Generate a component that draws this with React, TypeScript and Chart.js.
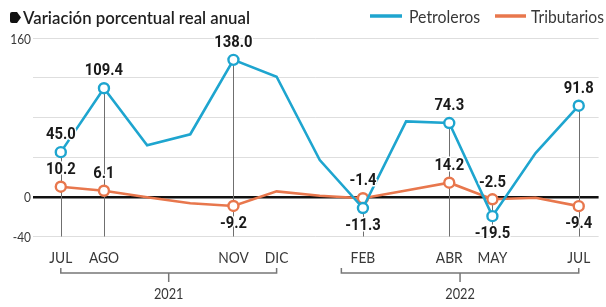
import { useEffect, useRef } from 'react';
import { Chart, registerables } from 'chart.js';

Chart.register(...registerables);

// ---- data ----
const months = ['JUL', 'AGO', 'SEP', 'OCT', 'NOV', 'DIC', 'ENE', 'FEB', 'MAR', 'ABR', 'MAY', 'JUN', 'JUL'];
const tickLabels = ['JUL', 'AGO', '', '', 'NOV', 'DIC', '', 'FEB', '', 'ABR', 'MAY', '', 'JUL'];
const petroleros = [45.0, 109.4, 52, 63, 138.0, 121, 37, -11.3, 76, 74.3, -19.5, 44, 91.8];
const tributarios = [10.2, 6.1, -0.5, -6.5, -9.2, 5.5, 1, -1.4, 6.4, 14.2, -2.5, -1, -9.4];
const labeledIdx = [0, 1, 4, 7, 9, 10, 12];
const yTickShown = [160, 0, -40];
const years = ['2021', '2022'];
const yearStart = [0, 6.5];
const yearEnd = [5, 12];
const seriesNames = ['Petroleros', 'Tributarios'];
const titleText = 'Variación porcentual real anual';

const BLUE = '#1ea5cf';
const ORANGE = '#e8774d';
const TEXT = '#383838';

function drawScaled(ctx: CanvasRenderingContext2D, text: string, x: number, y: number, font: string, sx: number, align: CanvasTextAlign, baseline: CanvasTextBaseline, color: string) {
  ctx.save();
  ctx.font = font;
  ctx.fillStyle = color;
  ctx.textAlign = align;
  ctx.textBaseline = baseline;
  ctx.translate(x, y);
  ctx.scale(sx, 1);
  ctx.fillText(text, 0, 0);
  ctx.restore();
}

function drawFit(ctx: CanvasRenderingContext2D, text: string, x: number, y: number, font: string, width: number, color: string) {
  ctx.save();
  ctx.font = font;
  const w = ctx.measureText(text).width;
  ctx.restore();
  drawScaled(ctx, text, x, y, font, width / w, 'left', 'alphabetic', color);
}

const overlay = {
  id: 'overlay',
  beforeDatasetsDraw(chart: any) {
    const { ctx, chartArea, scales } = chart;
    const x = scales.x, y = scales.y;
    ctx.save();
    ctx.strokeStyle = '#6f6f6f';
    ctx.lineWidth = 1;
    labeledIdx.forEach((i) => {
      const px = Math.round(x.getPixelForValue(i)) + 0.5;
      const top = Math.min(y.getPixelForValue(petroleros[i]), y.getPixelForValue(tributarios[i]));
      ctx.beginPath();
      ctx.moveTo(px, top);
      ctx.lineTo(px, chartArea.bottom);
      ctx.stroke();
    });
    ctx.restore();
  },
  afterDatasetsDraw(chart: any) {
    const { ctx, scales } = chart;
    const x = scales.x, y = scales.y;
    const font = '700 17px Roboto, sans-serif';
    [petroleros, tributarios].forEach((series) => {
      labeledIdx.forEach((i) => {
        const v = series[i];
        const px = x.getPixelForValue(i);
        const py = y.getPixelForValue(v);
        const ly = v < -5 ? py + 18 : py - 17;
        const t = v.toFixed(1);
        ctx.save();
        ctx.font = font;
        ctx.textAlign = 'center';
        ctx.textBaseline = 'middle';
        ctx.translate(px, ly);
        ctx.scale(0.87, 1);
        ctx.lineJoin = 'round';
        ctx.strokeStyle = '#ffffff';
        ctx.lineWidth = 3;
        ctx.strokeText(t, 0, 0);
        ctx.fillStyle = '#1a1a1a';
        ctx.fillText(t, 0, 0);
        ctx.restore();
      });
    });
  },
  afterDraw(chart: any) {
    const { ctx, chartArea, scales } = chart;
    const x = scales.x, y = scales.y;
    // y tick labels
    y.ticks.forEach((tk: any) => {
      if (!yTickShown.includes(tk.value)) return;
      drawScaled(ctx, String(tk.value), chartArea.left - 2, y.getPixelForValue(tk.value) + 1, '400 14px Lato, sans-serif', 0.85, 'right', 'middle', TEXT);
    });
    // x tick labels
    x.ticks.forEach((tk: any) => {
      const lbl = tickLabels[tk.value];
      if (!lbl) return;
      drawScaled(ctx, lbl, x.getPixelForValue(tk.value), 263, '400 14.5px Lato, sans-serif', 0.95, 'center', 'alphabetic', TEXT);
    });
    // year brackets
    ctx.save();
    ctx.strokeStyle = '#777777';
    ctx.lineWidth = 1.5;
    years.forEach((yr, g) => {
      const x1 = x.getPixelForValue(yearStart[g]);
      const x2 = x.getPixelForValue(yearEnd[g]);
      const xm = (x1 + x2) / 2;
      ctx.beginPath();
      ctx.moveTo(x1, 268);
      ctx.lineTo(x1, 273);
      ctx.lineTo(x2, 273);
      ctx.lineTo(x2, 268);
      ctx.moveTo(xm, 273);
      ctx.lineTo(xm, 282);
      ctx.stroke();
      drawScaled(ctx, yr, xm, 299, '400 15px Lato, sans-serif', 0.85, 'center', 'alphabetic', TEXT);
    });
    ctx.restore();
    // title bullet
    ctx.save();
    ctx.fillStyle = '#111111';
    ctx.beginPath();
    ctx.moveTo(12, 12);
    ctx.lineTo(17, 12);
    ctx.lineTo(21, 17.5);
    ctx.lineTo(17, 23);
    ctx.lineTo(12, 23);
    ctx.quadraticCurveTo(10, 23, 10, 21);
    ctx.lineTo(10, 14);
    ctx.quadraticCurveTo(10, 12, 12, 12);
    ctx.fill();
    ctx.restore();
    drawFit(ctx, titleText, 23, 24, '600 18px Lato, sans-serif', 227, '#1f1f1f');
    // legend
    const sw = [[370, 402], [495, 526]];
    const tx = [[409, 71], [531, 73]];
    [BLUE, ORANGE].forEach((c, k) => {
      ctx.save();
      ctx.strokeStyle = c;
      ctx.lineWidth = 3.5;
      ctx.beginPath();
      ctx.moveTo(sw[k][0], 16);
      ctx.lineTo(sw[k][1], 16);
      ctx.stroke();
      ctx.restore();
      drawFit(ctx, seriesNames[k], tx[k][0], 22.5, '400 17px Lato, sans-serif', tx[k][1], TEXT);
    });
  },
};

export default function App() {
  const ref = useRef<HTMLCanvasElement | null>(null);
  useEffect(() => {
    if (!ref.current) return;
    const radii = months.map((_, i) => (labeledIdx.includes(i) ? 5 : 0));
    const chart = new Chart(ref.current, {
      type: 'line',
      data: {
        datasets: [
          {
            label: seriesNames[0],
            data: petroleros.map((v, i) => ({ x: i, y: v })),
            borderColor: BLUE,
            borderWidth: 2.6,
            pointRadius: radii,
            pointBackgroundColor: '#ffffff',
            pointBorderColor: BLUE,
            pointBorderWidth: 2.4,
            tension: 0,
          },
          {
            label: seriesNames[1],
            data: tributarios.map((v, i) => ({ x: i, y: v })),
            borderColor: ORANGE,
            borderWidth: 2.6,
            pointRadius: radii,
            pointBackgroundColor: '#ffffff',
            pointBorderColor: ORANGE,
            pointBorderWidth: 2.4,
            tension: 0,
          },
        ],
      },
      options: {
        responsive: false,
        animation: false,
        devicePixelRatio: 1,
        layout: { padding: { top: 38, right: 3, left: 0, bottom: 0 } },
        plugins: { legend: { display: false }, tooltip: { enabled: false }, title: { display: false } },
        scales: {
          x: {
            type: 'linear',
            min: -0.644,
            max: 12.46,
            grid: { display: false },
            border: { display: false },
            afterBuildTicks: (s: any) => {
              s.ticks = months.map((_, i) => ({ value: i }));
            },
            ticks: { display: false },
            afterFit: (s: any) => {
              s.height = 70.5;
            },
          },
          y: {
            min: -40,
            max: 160,
            ticks: { display: false, stepSize: 40 },
            grid: {
              drawTicks: false,
              color: (c: any) => (c.tick && c.tick.value === 0 ? '#111111' : '#dedede'),
              lineWidth: (c: any) => (c.tick && c.tick.value === 0 ? 2.6 : 1),
            },
            border: { display: false },
            afterFit: (s: any) => {
              s.width = 33;
            },
          },
        },
      },
      plugins: [overlay],
    });
    return () => chart.destroy();
  }, []);
  return (
    <div style={{ position: 'fixed', left: 0, top: 0, width: 606, height: 307, background: '#fff' }}>
      <canvas ref={ref} width={606} height={307} style={{ display: 'block' }} />
    </div>
  );
}
